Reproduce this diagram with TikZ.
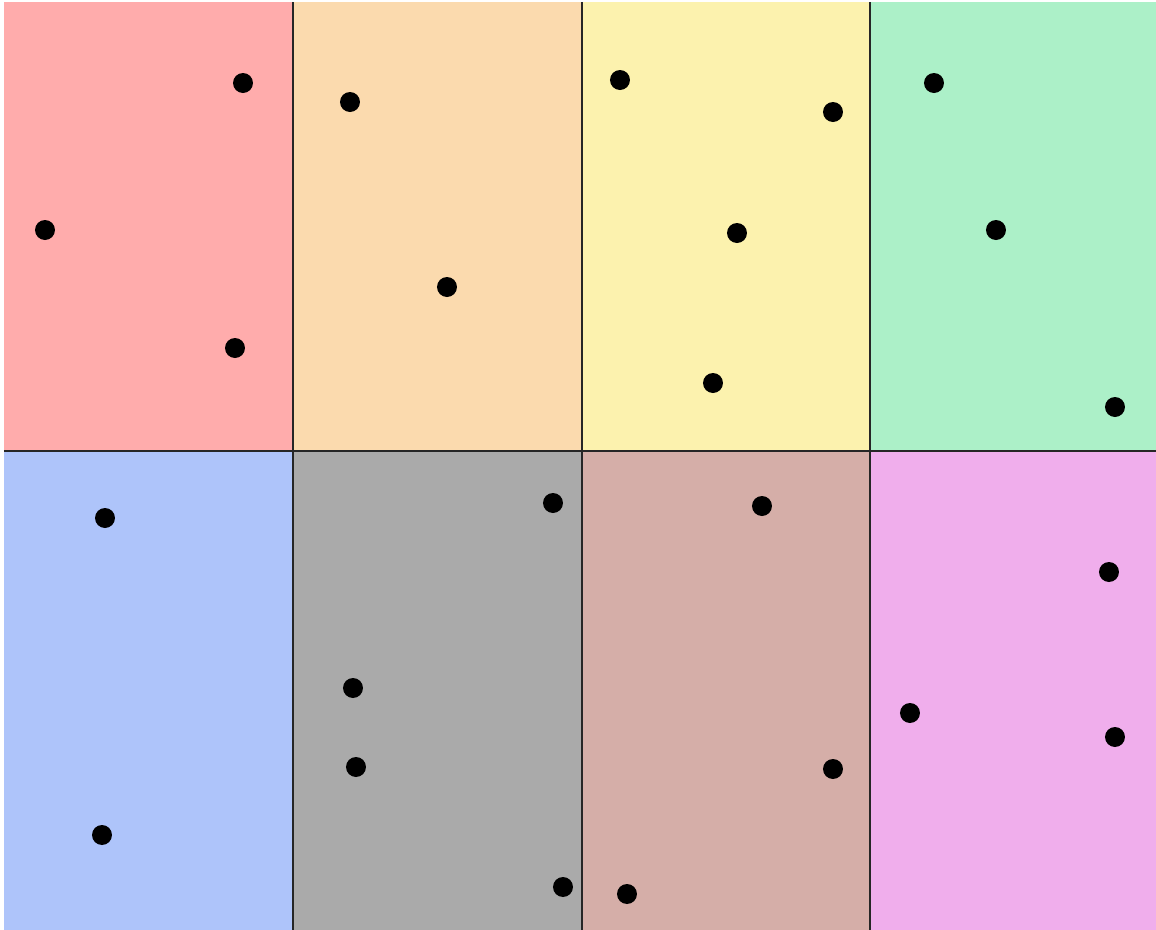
\documentclass[tikz,border=0pt]{standalone}
\usepackage{xcolor}

\definecolor{cellred}{RGB}{255,172,172}
\definecolor{cellorange}{RGB}{251,218,174}
\definecolor{cellyellow}{RGB}{252,242,174}
\definecolor{cellgreen}{RGB}{172,240,200}
\definecolor{cellblue}{RGB}{174,196,250}
\definecolor{cellgray}{RGB}{170,170,170}
\definecolor{cellbrown}{RGB}{213,174,168}
\definecolor{cellpink}{RGB}{240,174,236}

\begin{document}
\begin{tikzpicture}[x=0.01cm,y=-0.01cm]

\useasboundingbox (0,0) rectangle (1156,930);

% Top row cells
\fill[cellred]    (4,2)   rectangle (293,451);
\fill[cellorange] (293,2) rectangle (582,451);
\fill[cellyellow] (582,2) rectangle (870,451);
\fill[cellgreen]  (870,2) rectangle (1156,451);

% Bottom row cells
\fill[cellblue]   (4,451)   rectangle (293,930);
\fill[cellgray]   (293,451) rectangle (582,930);
\fill[cellbrown]  (582,451) rectangle (870,930);
\fill[cellpink]   (870,451) rectangle (1156,930);

% Grid lines
\draw[black!85, line width=0.6pt] (4,451) -- (1156,451);
\foreach \gx in {293,582,870}
  \draw[black!85, line width=0.6pt] (\gx,2) -- (\gx,930);

% Points
\foreach \px/\py in {243/83, 45/230, 235/348,
                     350/102, 447/287,
                     620/80, 833/112, 737/233, 713/383,
                     934/83, 996/230, 1115/407,
                     105/518, 102/835,
                     553/503, 353/688, 356/767, 563/887,
                     762/506, 833/769, 627/894,
                     1109/572, 910/713, 1115/737}
  \fill[black] (\px,\py) circle (10);

\end{tikzpicture}
\end{document}
